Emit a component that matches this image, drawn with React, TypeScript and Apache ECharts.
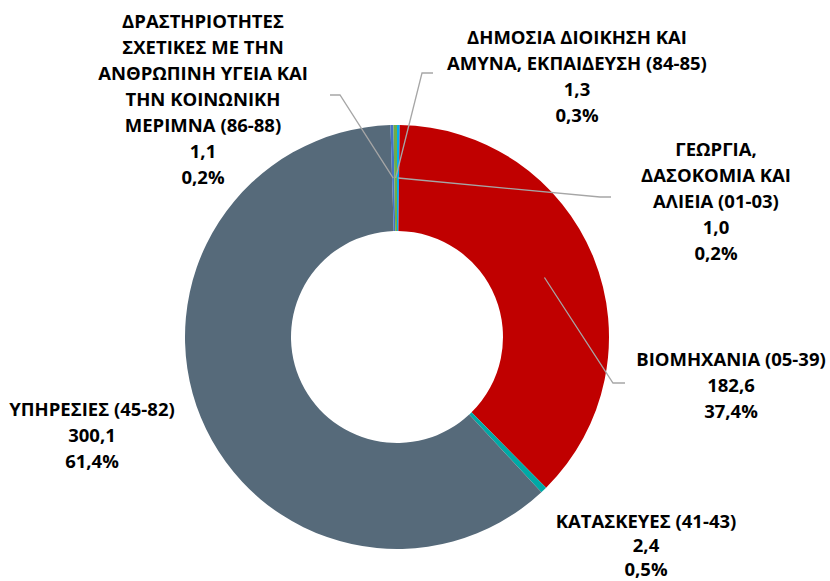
import React, { useEffect, useRef } from "react";
import * as echarts from "echarts";

const categories = [
  "ΓΕΩΡΓΙΑ, ΔΑΣΟΚΟΜΙΑ ΚΑΙ ΑΛΙΕΙΑ (01-03)",
  "ΒΙΟΜΗΧΑΝΙΑ (05-39)",
  "ΚΑΤΑΣΚΕΥΕΣ (41-43)",
  "ΥΠΗΡΕΣΙΕΣ (45-82)",
  "ΔΡΑΣΤΗΡΙΟΤΗΤΕΣ ΣΧΕΤΙΚΕΣ ΜΕ ΤΗΝ ΑΝΘΡΩΠΙΝΗ ΥΓΕΙΑ ΚΑΙ ΤΗΝ ΚΟΙΝΩΝΙΚΗ ΜΕΡΙΜΝΑ (86-88)",
  "ΔΗΜΟΣΙΑ ΔΙΟΙΚΗΣΗ ΚΑΙ ΑΜΥΝΑ, ΕΚΠΑΙΔΕΥΣΗ (84-85)",
];
const labelNames = [
  "ΓΕΩΡΓΙΑ,\nΔΑΣΟΚΟΜΙΑ ΚΑΙ\nΑΛΙΕΙΑ (01-03)",
  "ΒΙΟΜΗΧΑΝΙΑ (05-39)",
  "ΚΑΤΑΣΚΕΥΕΣ (41-43)",
  "ΥΠΗΡΕΣΙΕΣ (45-82)",
  "ΔΡΑΣΤΗΡΙΟΤΗΤΕΣ\nΣΧΕΤΙΚΕΣ ΜΕ ΤΗΝ\nΑΝΘΡΩΠΙΝΗ ΥΓΕΙΑ ΚΑΙ\nΤΗΝ ΚΟΙΝΩΝΙΚΗ\nΜΕΡΙΜΝΑ (86-88)",
  "ΔΗΜΟΣΙΑ ΔΙΟΙΚΗΣΗ ΚΑΙ\nΑΜΥΝΑ, ΕΚΠΑΙΔΕΥΣΗ (84-85)",
];
const values = [1.0, 182.6, 2.4, 300.1, 1.1, 1.3];
const colors = ["#00B0F0", "#C00000", "#00A9A5", "#566A7A", "#4472C4", "#70AD47"];

// layout (label anchors and leader-line bends)
const CX = 397;
const CY = 337;
const R_IN = 106;
const R_OUT = 212;
const labelPos: number[][] = [
  [716, 200],
  [731, 384],
  [646, 544],
  [92, 434],
  [203, 98],
  [577, 75],
];
const labelLineHeights = [26, 26, 24, 26, 26, 26];
const lineBends: (number[][] | null)[] = [
  [[600, 197], [611, 197]],
  [[613, 383], [625, 383]],
  null,
  null,
  [[340, 95], [330, 95]],
  [[422, 73], [433, 73]],
];

const fmt = (n: number) => n.toFixed(1).replace(".", ",");

export default function App() {
  const ref = useRef<HTMLDivElement>(null);
  useEffect(() => {
    if (!ref.current) return;
    const chart = echarts.init(ref.current, undefined, { renderer: "svg" });
    const total = values.reduce((a, b) => a + b, 0);
    const midPoint = (i: number) => {
      let cum = 0;
      for (let k = 0; k < i; k++) cum += values[k];
      const a = (2 * Math.PI * (cum + values[i] / 2)) / total;
      const r = (R_IN + R_OUT) / 2;
      return [CX + r * Math.sin(a), CY - r * Math.cos(a)];
    };
    const common = {
      type: "pie",
      center: [CX, CY],
      radius: [R_IN, R_OUT],
      startAngle: 90,
      clockwise: true,
      avoidLabelOverlap: false,
      percentPrecision: 1,
      emphasis: { disabled: true },
      silent: true,
    };
    chart.setOption({
      animation: false,
      backgroundColor: "#ffffff",
      series: [
        {
          ...common,
          z: 2,
          data: values.map((v, i) => ({
            name: categories[i],
            value: v,
            itemStyle: { color: colors[i] },
          })),
          label: { show: false },
          labelLine: { show: false },
        },
        {
          ...common,
          z: 5,
          data: values.map((v, i) => ({
            name: categories[i],
            value: v,
            itemStyle: { color: "rgba(0,0,0,0)" },
            label: { lineHeight: labelLineHeights[i] },
            labelLine: { show: lineBends[i] !== null },
          })),
          label: {
            show: true,
            position: "outside",
            color: "#000000",
            fontFamily: "Open Sans",
            fontWeight: "bold",
            fontSize: 18.5,
            lineHeight: 26,
            align: "center",
            formatter: (p: any) =>
              labelNames[p.dataIndex] + "\n" + fmt(p.value) + "\n" + fmt(p.percent) + "%",
          },
          labelLine: {
            show: true,
            showAbove: true,
            lineStyle: { color: "#A6A6A6", width: 1.3 },
          },
          labelLayout: (p: any) => {
            const i = p.dataIndex;
            const res: any = {
              x: labelPos[i][0],
              y: labelPos[i][1],
              align: "center",
              verticalAlign: "middle",
            };
            const b = lineBends[i];
            if (b) {
              res.labelLinePoints = [midPoint(i), b[0], b[1]];
            }
            return res;
          },
        },
      ],
    });
    return () => chart.dispose();
  }, []);
  return (
    <div
      ref={ref}
      style={{ position: "fixed", left: 0, top: 0, width: 830, height: 581 }}
    />
  );
}
